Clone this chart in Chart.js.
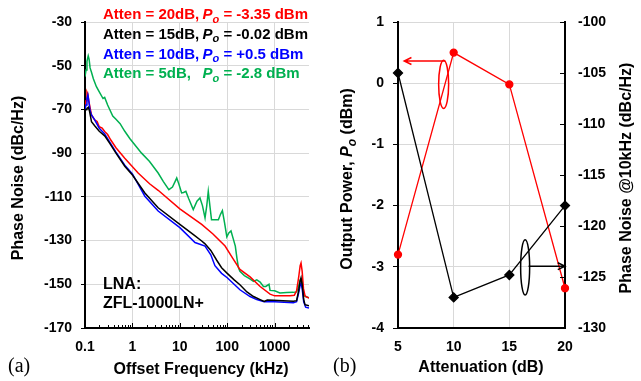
<!DOCTYPE html>
<html>
<head>
<meta charset="utf-8">
<script src="https://cdn.jsdelivr.net/npm/chart.js@4"></script>
<style>
html, body { margin: 0; padding: 0; background: #fff; }
#page { position: relative; width: 641px; height: 381px; }
#boite-a { position: absolute; left: 0; top: 0; width: 330px; height: 381px; }
#boite-b { position: absolute; left: 330px; top: 0; width: 311px; height: 381px; }
</style>
</head>
<body>
<div id="page">
    <div id="boite-a"><canvas id="graphique-a"></canvas></div>
    <div id="boite-b"><canvas id="graphique-b"></canvas></div>
</div>
<script>
// (a) phase noise vs offset frequency (kHz, dBc/Hz)
const redFreq = [0.1, 0.105, 0.11, 0.115, 0.12, 0.13, 0.137, 0.16, 0.18, 0.2, 0.23, 0.26, 0.3, 0.35, 0.45, 0.69, 1.32, 2.3, 3.49, 10, 28.9, 50, 90, 130, 185, 303, 494, 800, 1000, 2110, 2600, 2900, 3200, 3450, 3600, 3800, 4050, 4400, 5300];
const redPn = [-69, -66, -62, -63, -66, -70, -72.5, -74.8, -75.5, -77.9, -78.5, -80.1, -81.5, -84, -87.5, -92.3, -99.1, -104, -107, -115.5, -122.6, -127, -132.5, -138, -143.2, -146.6, -151, -154.5, -155.3, -155.2, -155, -153, -147, -141.5, -140.3, -144, -152, -155.5, -156.3];

const blackFreq = [0.1, 0.105, 0.11, 0.118, 0.125, 0.13, 0.137, 0.16, 0.2, 0.26, 0.333, 0.45, 0.69, 1.0, 1.83, 3.49, 10, 20, 28.9, 34, 45, 60, 76, 100, 140, 185, 260, 358, 494, 600, 700, 940, 1500, 2480, 2900, 3200, 3450, 3600, 3800, 4100, 4360, 5300];
const blackPn = [-71, -70, -69.5, -69, -71, -73, -75.6, -77.5, -80, -82.1, -85.5, -90, -96, -100, -108.2, -115, -122.6, -127.5, -130.2, -131.5, -134.5, -139, -142.4, -145, -148, -150.2, -153.5, -155.6, -157, -157.8, -157.2, -157.3, -157.5, -157.8, -157.5, -153, -148.5, -147.1, -150, -157, -159.3, -159.8];

const blueFreq = [0.1, 0.105, 0.11, 0.115, 0.12, 0.127, 0.137, 0.16, 0.2, 0.26, 0.333, 0.45, 0.69, 1.0, 1.83, 3.49, 10, 20.9, 34, 45, 55, 76, 100, 185, 303, 420, 600, 1000, 2480, 2900, 3200, 3450, 3600, 3800, 4100, 4500, 5300];
const bluePn = [-70, -68, -65, -63.4, -66, -70.2, -72.5, -74.8, -78.6, -81.2, -85, -89.5, -95.5, -99.5, -109.7, -116.5, -124.1, -130.9, -132.5, -136.5, -141.5, -145, -147, -152.5, -155.6, -157, -158, -158, -158.5, -158, -154, -150.5, -149.4, -152, -158, -160.5, -160.9];

const greenFreq = [0.1, 0.105, 0.11, 0.117, 0.122, 0.128, 0.137, 0.15, 0.174, 0.2, 0.24, 0.26, 0.3, 0.385, 0.45, 0.55, 0.69, 0.88, 1.2, 1.56, 2.3, 3.49, 4.5, 5.87, 7, 8.6, 9.5, 10.9, 12, 13.4, 15.5, 19.2, 23, 26.6, 30, 34, 37, 39.8, 43, 46.6, 55, 65, 72, 79, 88, 98, 108, 120, 133, 148, 160, 172, 185, 230, 300, 358, 420, 494, 580, 650, 760, 800, 1000, 1290, 1800, 2480, 2900, 3200, 3450, 3600, 3800, 4020, 4400, 5300];
const greenPn = [-55, -52, -48, -45.5, -47, -51, -53, -56, -59.6, -62, -65, -64.5, -68, -73, -74.5, -76.5, -80, -83.3, -87, -90, -93.8, -99.1, -103, -106.7, -105.5, -101.4, -104, -108.2, -108, -107.5, -111, -115.8, -112, -110.5, -114, -119.6, -114, -107.5, -114, -120.5, -120.5, -120.5, -118, -116.3, -122, -128.3, -126.5, -125.6, -129, -132.5, -138, -142.4, -144.1, -146, -147.5, -148.7, -148, -149, -151, -151, -150, -152.8, -153, -154, -153.8, -153.7, -153.5, -151, -148, -147.6, -149, -154.5, -155.5, -156.2];

const freqTicks = [0.1, 1, 10, 100, 1000];
const legendAtten = ['Atten = 20dB,', 'Atten = 15dB,', 'Atten = 10dB,', 'Atten = 5dB,'];
const legendPower = ['= -3.35 dBm', '= -0.02 dBm', '= +0.5 dBm', '= -2.8 dBm'];

// (b) output power and phase noise @10kHz vs attenuation
const attenuation = [5, 10, 15, 20];
const outputPower = [-2.8, 0.5, -0.02, -3.35];
const phaseNoise10k = [-105, -127, -124.8, -118];
const attenTicks = [5, 10, 15, 20];

const SANS = '"Liberation Sans", Arial, sans-serif';
const SERIF = '"Liberation Serif", "Times New Roman", serif';
const ROUGE = '#ff0000', NOIR = '#000000', BLEU = '#0000ff', VERT = '#00b050';
const GRILLE = '#d9d9d9';
const legendColors = [ROUGE, NOIR, BLEU, VERT];

Chart.defaults.font.family = SANS;
Chart.defaults.color = '#000';

const tickFont = { family: SANS, size: 14, weight: 'bold' };

function points(xs, ys) {
    return xs.map((x, i) => ({ x: x, y: ys[i] }));
}

function richText(ctx, parts, x, y, size, align) {
    const fonts = parts.map(p => (p.it ? 'italic ' : '') + 'bold ' + (p.sub ? Math.round(size * 0.72) : size) + 'px ' + SANS);
    const widths = parts.map((p, i) => { ctx.font = fonts[i]; return ctx.measureText(p.t).width; });
    const total = widths.reduce((a, b) => a + b, 0);
    let cx = align === 'center' ? x - total / 2 : x;
    parts.forEach((p, i) => {
        ctx.font = fonts[i];
        ctx.fillText(p.t, cx, p.sub ? y + size * 0.3 : y);
        cx += widths[i];
    });
}

function rotatedText(ctx, parts, x, y, size) {
    ctx.save();
    ctx.translate(x, y);
    ctx.rotate(-Math.PI / 2);
    richText(ctx, parts, 0, 0, size, 'center');
    ctx.restore();
}

function arrow(ctx, x1, y1, x2, y2) {
    const ang = Math.atan2(y2 - y1, x2 - x1);
    ctx.beginPath();
    ctx.moveTo(x1, y1);
    ctx.lineTo(x2, y2);
    ctx.moveTo(x2 - 8 * Math.cos(ang - 0.45), y2 - 8 * Math.sin(ang - 0.45));
    ctx.lineTo(x2, y2);
    ctx.lineTo(x2 - 8 * Math.cos(ang + 0.45), y2 - 8 * Math.sin(ang + 0.45));
    ctx.stroke();
}

const decorA = {
    id: 'decorA',
    afterDraw(chart) {
        const ctx = chart.ctx;
        const xs = chart.scales.x;
        const area = chart.chartArea;
        ctx.save();

        // petites graduations log vers l'interieur
        ctx.strokeStyle = '#000';
        ctx.lineWidth = 1;
        freqTicks.forEach(d => {
            for (let k = 1; k <= 9; k++) {
                const v = d * k;
                if (v > xs.max) break;
                const px = Math.round(xs.getPixelForValue(v)) + 0.5;
                ctx.beginPath();
                ctx.moveTo(px, area.bottom);
                ctx.lineTo(px, area.bottom - (k === 1 ? 5 : 3));
                ctx.stroke();
            }
        });

        ctx.textAlign = 'left';
        ctx.textBaseline = 'middle';
        for (let i = 0; i < legendAtten.length; i++) {
            const y = 15 + i * 19.7;
            ctx.fillStyle = legendColors[i];
            richText(ctx, [{ t: legendAtten[i] }], 103, y, 15, 'left');
            richText(ctx, [{ t: 'P', it: true }, { t: 'o', it: true, sub: true }, { t: ' ' + legendPower[i] }], 202.5, y, 15, 'left');
        }

        ctx.fillStyle = '#000';
        richText(ctx, [{ t: 'LNA:' }], 103, 285, 16, 'left');
        richText(ctx, [{ t: 'ZFL-1000LN+' }], 103, 304, 16, 'left');

        richText(ctx, [{ t: 'Offset Frequency (kHz)' }], 201, 370, 16, 'center');
        rotatedText(ctx, [{ t: 'Phase Noise (dBc/Hz)' }], 19, 178, 16);

        ctx.font = '20px ' + SERIF;
        ctx.fillText('(a)', 8, 367);
        ctx.restore();
    }
};

const decorB = {
    id: 'decorB',
    afterDraw(chart) {
        const ctx = chart.ctx;
        const xs = chart.scales.x, ys = chart.scales.y, y1 = chart.scales.y1;
        const area = chart.chartArea;
        ctx.save();

        // graduations de l'axe droit vers l'interieur
        ctx.strokeStyle = '#000';
        ctx.lineWidth = 1;
        y1.ticks.forEach(t => {
            const py = Math.round(y1.getPixelForValue(t.value)) + 0.5;
            ctx.beginPath();
            ctx.moveTo(area.right, py);
            ctx.lineTo(area.right - 5, py);
            ctx.stroke();
        });

        // ellipse + fleche rouge -> axe gauche
        ctx.lineWidth = 1.5;
        ctx.strokeStyle = ROUGE;
        let cx = xs.getPixelForValue(9.1);
        let top = ys.getPixelForValue(0.376), bot = ys.getPixelForValue(-0.413);
        ctx.beginPath();
        ctx.ellipse(cx, (top + bot) / 2, 5, (bot - top) / 2, 0, 0, Math.PI * 2);
        ctx.stroke();
        arrow(ctx, xs.getPixelForValue(9.25), ys.getPixelForValue(0.363), xs.getPixelForValue(5.56), ys.getPixelForValue(0.363));

        // ellipse + fleche noire -> axe droit
        ctx.strokeStyle = NOIR;
        cx = xs.getPixelForValue(16.42);
        top = ys.getPixelForValue(-2.56);
        bot = ys.getPixelForValue(-3.46);
        ctx.beginPath();
        ctx.ellipse(cx, (top + bot) / 2, 4.5, (bot - top) / 2, 0, 0, Math.PI * 2);
        ctx.stroke();
        arrow(ctx, xs.getPixelForValue(16.73), ys.getPixelForValue(-2.99), xs.getPixelForValue(20), ys.getPixelForValue(-2.99));

        ctx.fillStyle = '#000';
        ctx.textAlign = 'left';
        ctx.textBaseline = 'middle';
        richText(ctx, [{ t: 'Attenuation (dB)' }], 151, 368, 16, 'center');
        rotatedText(ctx, [{ t: 'Output Power, ' }, { t: 'P', it: true }, { t: 'o', it: true, sub: true }, { t: ' (dBm)' }], 18, 179, 16);
        rotatedText(ctx, [{ t: 'Phase Noise @10kHz (dBc/Hz)' }], 297, 178, 16);

        ctx.font = '20px ' + SERIF;
        ctx.fillText('(b)', 3, 367);
        ctx.restore();
    }
};

function courbe(freq, pn, couleur) {
    return {
        data: points(freq, pn),
        borderColor: couleur,
        borderWidth: 1.5,
        pointRadius: 0,
        tension: 0,
        fill: false
    };
}

new Chart(document.getElementById('graphique-a'), {
    type: 'line',
    data: {
        datasets: [
            courbe(blackFreq, blackPn, NOIR),
            courbe(blueFreq, bluePn, BLEU),
            courbe(redFreq, redPn, ROUGE),
            courbe(greenFreq, greenPn, VERT)
        ]
    },
    options: {
        responsive: true,
        maintainAspectRatio: false,
        animation: false,
        layout: { padding: { top: 22, right: 21, left: 0, bottom: 0 } },
        plugins: { legend: { display: false }, tooltip: { enabled: false } },
        scales: {
            x: {
                type: 'logarithmic',
                min: 0.1,
                max: 5300,
                afterBuildTicks: s => { s.ticks = freqTicks.map(v => ({ value: v })); },
                afterFit: s => { s.height = 53; },
                ticks: { callback: v => String(v), font: tickFont, color: '#000', padding: 11, maxRotation: 0, autoSkip: false },
                grid: { color: c => (c.tick && c.tick.value === 0.1 ? 'rgba(0,0,0,0)' : GRILLE), drawTicks: false },
                border: { color: '#000', width: 2 }
            },
            y: {
                min: -170,
                max: -30,
                afterFit: s => { s.width = 85; },
                ticks: { stepSize: 20, font: tickFont, color: '#000', padding: 9 },
                grid: { color: c => (c.tick && c.tick.value === -170 ? 'rgba(0,0,0,0)' : GRILLE), tickColor: '#000', tickLength: 4 },
                border: { color: '#000', width: 2 }
            }
        }
    },
    plugins: [decorA]
});

new Chart(document.getElementById('graphique-b'), {
    type: 'line',
    data: {
        datasets: [
            {
                data: points(attenuation, phaseNoise10k),
                yAxisID: 'y1',
                borderColor: NOIR,
                backgroundColor: NOIR,
                borderWidth: 1.3,
                pointStyle: 'rectRot',
                pointRadius: 4.5,
                tension: 0,
                clip: false
            },
            {
                data: points(attenuation, outputPower),
                yAxisID: 'y',
                borderColor: ROUGE,
                backgroundColor: ROUGE,
                borderWidth: 1.3,
                pointStyle: 'circle',
                pointRadius: 3.5,
                tension: 0,
                clip: false
            }
        ]
    },
    options: {
        responsive: true,
        maintainAspectRatio: false,
        animation: false,
        layout: { padding: { top: 22, right: 0, left: 0, bottom: 0 } },
        plugins: { legend: { display: false }, tooltip: { enabled: false } },
        scales: {
            x: {
                type: 'linear',
                min: 5,
                max: 20,
                afterBuildTicks: s => { s.ticks = attenTicks.map(v => ({ value: v })); },
                afterFit: s => { s.height = 53; },
                ticks: { font: tickFont, color: '#000', padding: 11, maxRotation: 0 },
                grid: { color: c => (c.tick && (c.tick.value === 5 || c.tick.value === 20) ? 'rgba(0,0,0,0)' : GRILLE), drawTicks: false },
                border: { color: '#000', width: 2 }
            },
            y: {
                position: 'left',
                min: -4,
                max: 1,
                afterFit: s => { s.width = 68; },
                ticks: { stepSize: 1, font: tickFont, color: '#000', padding: 9 },
                grid: { color: c => (c.tick && c.tick.value === -4 ? 'rgba(0,0,0,0)' : GRILLE), tickColor: '#000', tickLength: 5 },
                border: { color: '#000', width: 2 }
            },
            y1: {
                position: 'right',
                min: -130,
                max: -100,
                afterFit: s => { s.width = 76; },
                ticks: { stepSize: 5, font: tickFont, color: '#000', padding: 13 },
                grid: { drawOnChartArea: false, drawTicks: false },
                border: { color: '#000', width: 2 }
            }
        }
    },
    plugins: [decorB]
});
</script>
</body>
</html>
